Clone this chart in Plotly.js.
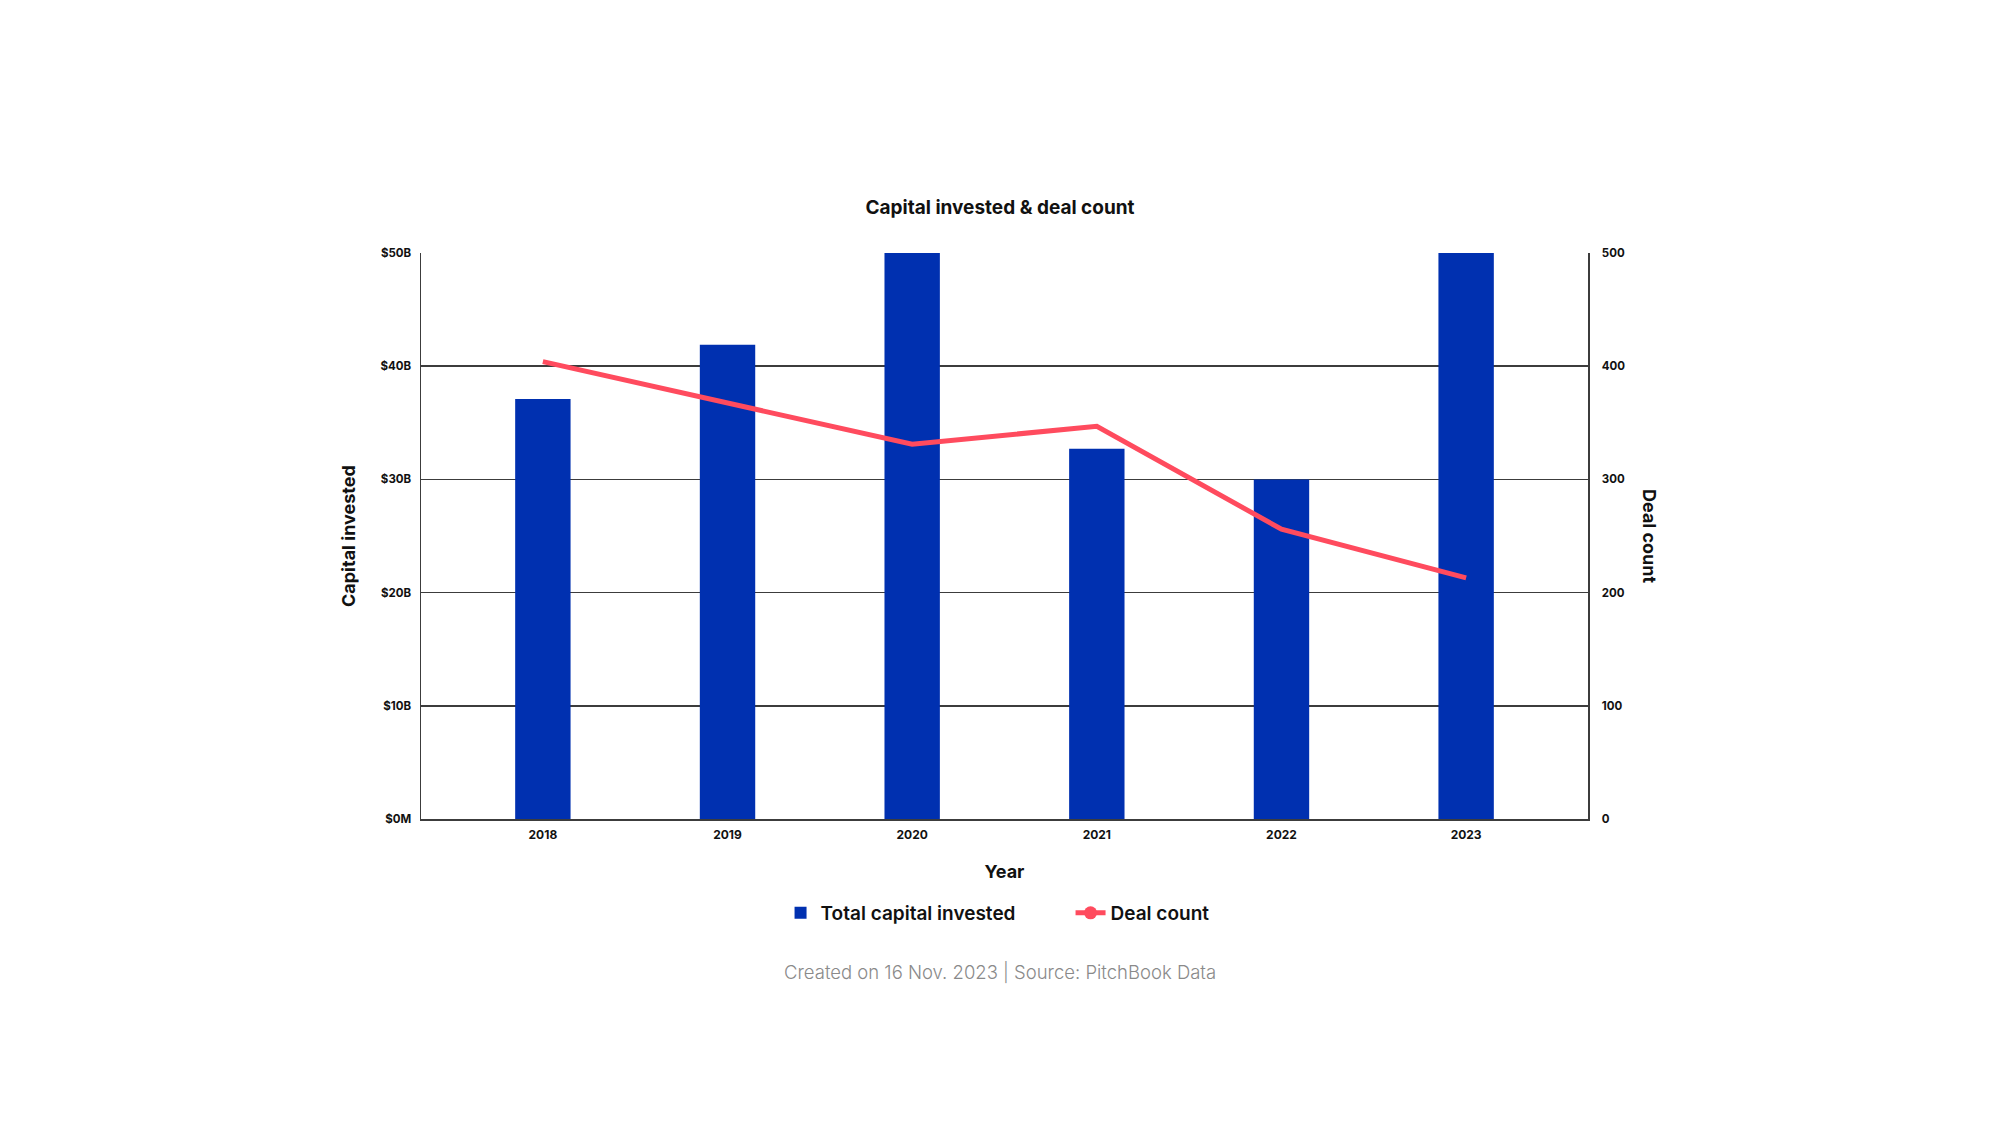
<!DOCTYPE html>
<html>
<head>
<meta charset="utf-8">
<script src="https://cdn.plot.ly/plotly-3.0.1.min.js"></script>
<style>
  html, body { margin: 0; padding: 0; background: #ffffff; }
  #chart { width: 2000px; height: 1125px; }
</style>
</head>
<body>
<div id="chart"></div>
<script>
// ---- Data ----
const years = ['2018', '2019', '2020', '2021', '2022', '2023'];
const capitalInvestedB = [37.1, 41.9, 56.0, 32.7, 30.0, 54.0]; // $B (2020 & 2023 exceed axis max)
const dealCount = [404, 367, 331, 347, 256, 213];
const leftTickVals = [0, 10, 20, 30, 40, 50];
const leftTickText = ['$0M', '$10B', '$20B', '$30B', '$40B', '$50B'];
const rightTickVals = [0, 100, 200, 300, 400, 500];

const FONT = 'Inter, "Noto Sans", "DejaVu Sans", sans-serif';
const BAR_COLOR = '#0030B0';
const LINE_COLOR = '#FF4B5E';
const GRID = '#3c3c3c';

const traces = [
  {
    type: 'bar',
    name: 'Total capital invested',
    x: years,
    y: capitalInvestedB,
    width: 0.3,
    marker: { color: BAR_COLOR, line: { width: 0 } },
    yaxis: 'y',
    hoverinfo: 'x+y'
  },
  {
    type: 'scatter',
    mode: 'lines',
    name: 'Deal count',
    x: years,
    y: dealCount,
    line: { color: LINE_COLOR, width: 5 },
    yaxis: 'y2',
    showlegend: false,
    cliponaxis: false
  },
  {
    // legend-only entry (line with a dot, as in the reference legend)
    type: 'scatter',
    mode: 'lines+markers',
    name: 'Deal count',
    x: [null],
    y: [null],
    line: { color: LINE_COLOR, width: 5 },
    marker: { color: LINE_COLOR, size: 13 },
    yaxis: 'y2',
    showlegend: true,
    hoverinfo: 'skip'
  }
];

const layout = {
  width: 2000,
  height: 1125,
  paper_bgcolor: '#ffffff',
  plot_bgcolor: '#ffffff',
  margin: { l: 421, r: 412, t: 253, b: 306, pad: 0 },
  font: { family: FONT, color: '#111111' },
  showlegend: true,
  title: {
    text: 'Capital invested &amp; deal count',
    font: { family: FONT, size: 19, weight: 700, color: '#111111' },
    x: 0.5, xanchor: 'center',
    y: 1 - 207 / 1125, yanchor: 'middle'
  },
  xaxis: {
    type: 'category',
    range: [-0.66, 5.66],
    showgrid: false,
    zeroline: false,
    showline: true,
    linecolor: GRID,
    linewidth: 1.5,
    ticks: '',
    ticklabelstandoff: 4,
    tickfont: { family: FONT, size: 12, weight: 700, color: '#111111' },
    title: {
      text: 'Year',
      font: { family: FONT, size: 18, weight: 700, color: '#111111' },
      standoff: 24
    },
    fixedrange: true
  },
  yaxis: {
    range: [0, 50],
    tickvals: leftTickVals,
    ticktext: leftTickText,
    showgrid: true,
    gridcolor: GRID,
    gridwidth: 1.5,
    zeroline: false,
    showline: true,
    linecolor: GRID,
    linewidth: 1.5,
    ticks: '',
    ticklabelstandoff: 6,
    tickfont: { family: FONT, size: 11.5, weight: 700, color: '#111111' },
    fixedrange: true
  },
  yaxis2: {
    overlaying: 'y',
    side: 'right',
    range: [0, 500],
    tickvals: rightTickVals,
    showgrid: false,
    zeroline: false,
    showline: true,
    linecolor: GRID,
    linewidth: 1.5,
    ticks: '',
    ticklabelstandoff: 10,
    tickfont: { family: FONT, size: 11.5, weight: 700, color: '#111111' },
    fixedrange: true
  },
  legend: {
    orientation: 'h',
    x: 0.5566, xanchor: 'center',
    y: (819 - 913) / 566, yanchor: 'middle',
    font: { family: FONT, size: 19, weight: 600, color: '#111111' },
    entrywidth: 245,
    entrywidthmode: 'pixels',
    traceorder: 'normal',
    bgcolor: 'rgba(0,0,0,0)'
  },
  annotations: [
    {
      text: 'Capital invested',
      xref: 'paper', yref: 'paper',
      x: (348 - 421) / 1167, y: 0.5,
      xanchor: 'center', yanchor: 'middle',
      textangle: -90,
      showarrow: false,
      font: { family: FONT, size: 18, weight: 700, color: '#111111' }
    },
    {
      text: 'Deal count',
      xref: 'paper', yref: 'paper',
      x: (1650 - 421) / 1167, y: 0.5,
      xanchor: 'center', yanchor: 'middle',
      textangle: 90,
      showarrow: false,
      font: { family: FONT, size: 18, weight: 700, color: '#111111' }
    },
    {
      text: 'Created on 16 Nov. 2023 | Source: PitchBook Data',
      xref: 'paper', yref: 'paper',
      x: (1000 - 421) / 1167, y: (819 - 972) / 566,
      xanchor: 'center', yanchor: 'middle',
      showarrow: false,
      font: { family: FONT, size: 18.5, weight: 300, color: '#8a8a8a' }
    }
  ]
};

Plotly.newPlot('chart', traces, layout, { displayModeBar: false, staticPlot: true });
</script>
</body>
</html>
